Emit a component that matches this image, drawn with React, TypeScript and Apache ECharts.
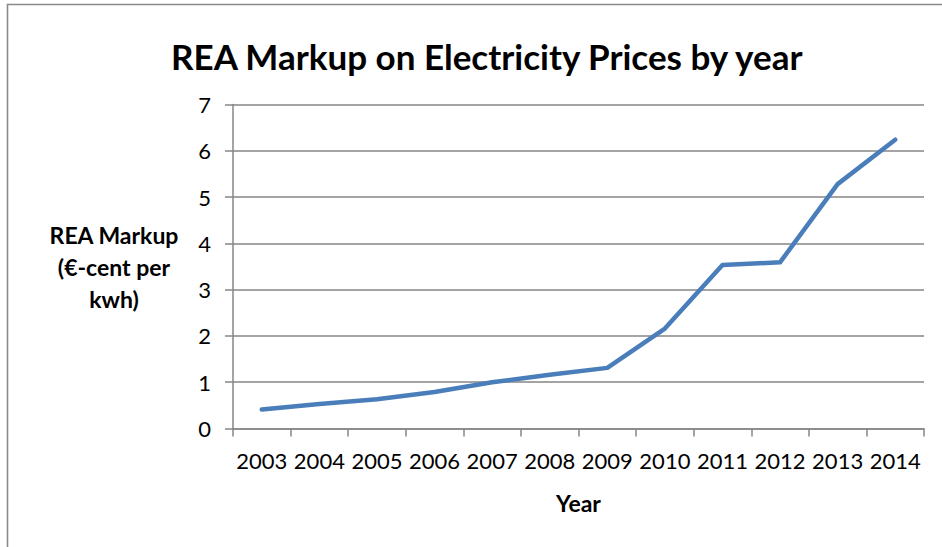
import React, { useEffect, useRef } from "react";
import * as echarts from "echarts";

const years = ["2003", "2004", "2005", "2006", "2007", "2008", "2009", "2010", "2011", "2012", "2013", "2014"];
const markup = [0.41, 0.53, 0.63, 0.79, 1.0, 1.16, 1.31, 2.16, 3.53, 3.59, 5.28, 6.24];
const titleText = "REA Markup on Electricity Prices by year";
const yName = "REA Markup\n(€-cent per\nkwh)";
const xName = "Year";

export default function App() {
  const ref = useRef<HTMLDivElement>(null);
  useEffect(() => {
    document.body.style.margin = "0";
    if (!ref.current) return;
    const chart = echarts.init(ref.current, null, { renderer: "svg" });
    const font = "Lato, 'Open Sans', sans-serif";
    chart.setOption({
      animation: false,
      backgroundColor: "#ffffff",
      textStyle: { fontFamily: font, color: "#000" },
      title: {
        text: titleText,
        left: 166,
        top: 33,
        textStyle: { fontFamily: font, fontSize: 35, fontWeight: "bold", color: "#000" },
      },
      graphic: [
        {
          type: "rect",
          shape: { x: 7.5, y: 4.5, width: 1000, height: 700 },
          style: { fill: "none", stroke: "#8a8a8a", lineWidth: 1.6 },
          silent: true,
          z: -1,
        },
      ],
      grid: { left: 233, right: 18, top: 104.5, bottom: 118.5 },
      xAxis: {
        type: "category",
        data: years,
        boundaryGap: true,
        name: xName,
        nameLocation: "middle",
        nameGap: 63,
        nameTextStyle: { fontFamily: font, fontSize: 23, fontWeight: "bold", color: "#000" },
        axisLine: { show: true, lineStyle: { color: "#868686", width: 1.5 } },
        axisTick: { show: true, length: 8, lineStyle: { color: "#868686", width: 1.5 } },
        axisLabel: { fontFamily: font, fontSize: 22, color: "#000", margin: 21, interval: 0 },
        splitLine: { show: false },
      },
      yAxis: {
        type: "value",
        min: 0,
        max: 7,
        interval: 1,
        name: yName,
        nameLocation: "middle",
        nameRotate: 0,
        nameGap: 119,
        nameTextStyle: {
          fontFamily: font,
          fontSize: 23,
          fontWeight: "bold",
          color: "#000",
          align: "center",
          lineHeight: 32,
          padding: [22, 0, 0, 0],
        },
        axisLine: { show: true, lineStyle: { color: "#868686", width: 1.5 } },
        axisTick: { show: true, length: 8, inside: false, lineStyle: { color: "#868686", width: 1.5 } },
        axisLabel: { fontFamily: font, fontSize: 22, color: "#000", margin: 22 },
        splitLine: { show: true, lineStyle: { color: "#868686", width: 1.5 } },
      },
      series: [
        {
          type: "line",
          data: markup,
          symbol: "none",
          smooth: false,
          lineStyle: { color: "#4a7ebb", width: 4.5, cap: "round", join: "round" },
        },
      ],
    });
    return () => chart.dispose();
  }, []);
  return <div ref={ref} style={{ width: 942, height: 547 }} />;
}
